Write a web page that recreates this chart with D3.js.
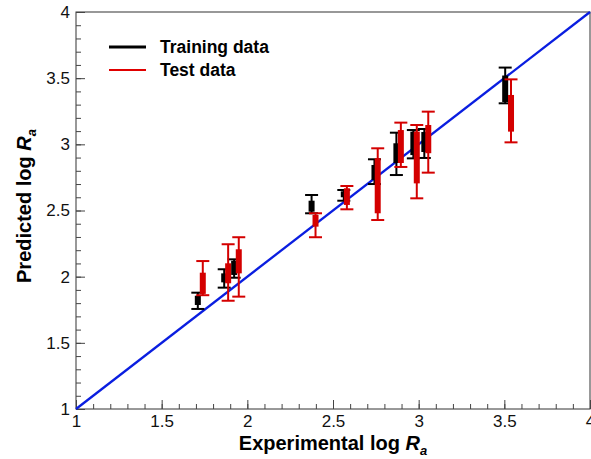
<!DOCTYPE html>
<html>
<head>
<meta charset="utf-8">
<script src="https://cdn.jsdelivr.net/npm/d3@7"></script>
<style>
	body { margin: 0; background: #fff; }
	text { font-family: "Liberation Sans", Arial, sans-serif; }
</style>
</head>
<body>
<svg id="chart" width="591" height="459"></svg>
<script>
// Training data: x, error bar (low/high), thick bar (low/high)
var trainX = [1.711, 1.865, 1.923, 2.375, 2.563, 2.742, 2.870, 2.969, 3.033, 3.505];
var trainErrLow = [1.756, 1.917, 1.992, 2.479, 2.574, 2.700, 2.768, 2.894, 2.897, 3.310];
var trainErrHigh = [1.879, 2.056, 2.131, 2.617, 2.655, 2.887, 3.088, 3.108, 3.116, 3.580];
var trainBarLow = [1.786, 1.957, 2.013, 2.491, 2.600, 2.731, 2.859, 2.919, 2.942, 3.320];
var trainBarHigh = [1.856, 2.025, 2.120, 2.574, 2.645, 2.844, 3.008, 3.096, 3.093, 3.520];

// Test data
var testX = [1.740, 1.888, 1.950, 2.398, 2.581, 2.761, 2.896, 2.989, 3.056, 3.539];
var testErrLow = [1.860, 1.818, 1.849, 2.298, 2.509, 2.428, 2.829, 2.592, 2.786, 3.015];
var testErrHigh = [2.118, 2.245, 2.298, 2.479, 2.685, 2.970, 3.164, 3.146, 3.247, 3.491];
var testBarLow = [1.870, 1.950, 2.025, 2.378, 2.542, 2.479, 2.859, 2.705, 2.933, 3.096];
var testBarHigh = [2.030, 2.101, 2.207, 2.466, 2.668, 2.895, 3.108, 3.096, 3.146, 3.373];

var majorTicks = [1, 1.5, 2, 2.5, 3, 3.5, 4];
var tickLabels = ['1', '1.5', '2', '2.5', '3', '3.5', '4'];
var legendNames = ['Training data', 'Test data'];

var svg = d3.select('#chart');

var x = d3.scaleLinear().domain([1, 4]).range([76, 590]);
var y = d3.scaleLinear().domain([1, 4]).range([409, 12]);

var minorTicks = d3.range(10, 41).map(function(d) { return d / 10; });

/* frame */
svg.append('rect')
	.attr('x', x(1))
	.attr('y', y(4))
	.attr('width', x(4) - x(1))
	.attr('height', y(1) - y(4))
	.attr('fill', 'none')
	.attr('stroke', '#333')
	.attr('stroke-width', 1);

/* inward ticks, minor every 0.1 and major every 0.5 */
var xAxisMinor = d3.axisBottom(x).tickValues(minorTicks).tickSize(-5).tickFormat('');
var xAxisMajor = d3.axisBottom(x).tickValues(majorTicks).tickSize(-9).tickPadding(6)
	.tickFormat(function(d, i) { return tickLabels[i]; });
var yAxisMinor = d3.axisLeft(y).tickValues(minorTicks).tickSize(-5).tickFormat('');
var yAxisMajor = d3.axisLeft(y).tickValues(majorTicks).tickSize(-9).tickPadding(6)
	.tickFormat(function(d, i) { return tickLabels[i]; });

function styleAxis(g) {
	g.select('.domain').remove();
	g.selectAll('line').attr('stroke', '#444');
	g.selectAll('text')
		.attr('font-size', 17)
		.attr('fill', '#111')
		.style('font-family', '"Liberation Sans", Arial, sans-serif');
}

svg.append('g').attr('transform', 'translate(0,' + y(1) + ')').call(xAxisMinor).call(styleAxis);
svg.append('g').attr('transform', 'translate(0,' + y(1) + ')').call(xAxisMajor).call(styleAxis);
svg.append('g').attr('transform', 'translate(' + x(1) + ',0)').call(yAxisMinor).call(styleAxis);
svg.append('g').attr('transform', 'translate(' + x(1) + ',0)').call(yAxisMajor).call(styleAxis);

/* y = x reference line */
svg.append('line')
	.attr('x1', x(1))
	.attr('y1', y(1))
	.attr('x2', x(4))
	.attr('y2', y(4))
	.attr('stroke', '#0a1ee0')
	.attr('stroke-width', 2.3);

function drawSeries(cls, color, xs, errLow, errHigh, barLow, barHigh) {
	var rows = xs.map(function(d, i) {
		return { x: d, el: errLow[i], eh: errHigh[i], bl: barLow[i], bh: barHigh[i] };
	});
	var g = svg.append('g').attr('class', cls);
	var pts = g.selectAll('.pt')
		.data(rows)
		.enter().append('g')
		.attr('class', 'pt');

	pts.append('line')
		.attr('x1', function(d) { return x(d.x); })
		.attr('x2', function(d) { return x(d.x); })
		.attr('y1', function(d) { return y(d.el); })
		.attr('y2', function(d) { return y(d.eh); })
		.attr('stroke', color)
		.attr('stroke-width', 2);

	['el', 'eh'].forEach(function(k) {
		pts.append('line')
			.attr('x1', function(d) { return x(d.x) - 6.5; })
			.attr('x2', function(d) { return x(d.x) + 6.5; })
			.attr('y1', function(d) { return y(d[k]); })
			.attr('y2', function(d) { return y(d[k]); })
			.attr('stroke', color)
			.attr('stroke-width', 2);
	});

	pts.append('rect')
		.attr('x', function(d) { return x(d.x) - 3; })
		.attr('width', 6)
		.attr('y', function(d) { return y(d.bh); })
		.attr('height', function(d) { return y(d.bl) - y(d.bh); })
		.attr('fill', color);
}

drawSeries('train', '#000', trainX, trainErrLow, trainErrHigh, trainBarLow, trainBarHigh);
drawSeries('test', '#d40000', testX, testErrLow, testErrHigh, testBarLow, testBarHigh);

/* legend */
var legendColors = ['#000', '#e00000'];
var legend = svg.selectAll('.legend')
	.data(legendNames)
	.enter().append('g')
	.attr('class', 'legend')
	.attr('transform', function(d, i) { return 'translate(109,' + (47 + i * 23) + ')'; });
legend.append('line')
	.attr('x1', 0)
	.attr('x2', 37)
	.attr('stroke', function(d, i) { return legendColors[i]; })
	.attr('stroke-width', function(d, i) { return i ? 2 : 3; });
legend.append('text')
	.attr('x', 51)
	.attr('y', 6)
	.attr('font-size', 17.5)
	.attr('font-weight', 'bold')
	.attr('fill', '#000')
	.text(function(d) { return d; });

/* axis titles */
var xTitle = svg.append('text')
	.attr('x', (x(1) + x(4)) / 2)
	.attr('y', 450)
	.attr('text-anchor', 'middle')
	.attr('font-size', 20)
	.attr('font-weight', 'bold');
xTitle.append('tspan').text('Experimental log ');
xTitle.append('tspan').attr('font-style', 'italic').text('R');
xTitle.append('tspan').attr('font-style', 'italic').attr('font-size', 13).attr('dy', 5).text('a');

var yTitle = svg.append('text')
	.attr('transform', 'translate(31,206) rotate(-90)')
	.attr('text-anchor', 'middle')
	.attr('font-size', 20)
	.attr('font-weight', 'bold');
yTitle.append('tspan').text('Predicted log ');
yTitle.append('tspan').attr('font-style', 'italic').text('R');
yTitle.append('tspan').attr('font-style', 'italic').attr('font-size', 13).attr('dy', 5).text('a');
</script>
</body>
</html>
